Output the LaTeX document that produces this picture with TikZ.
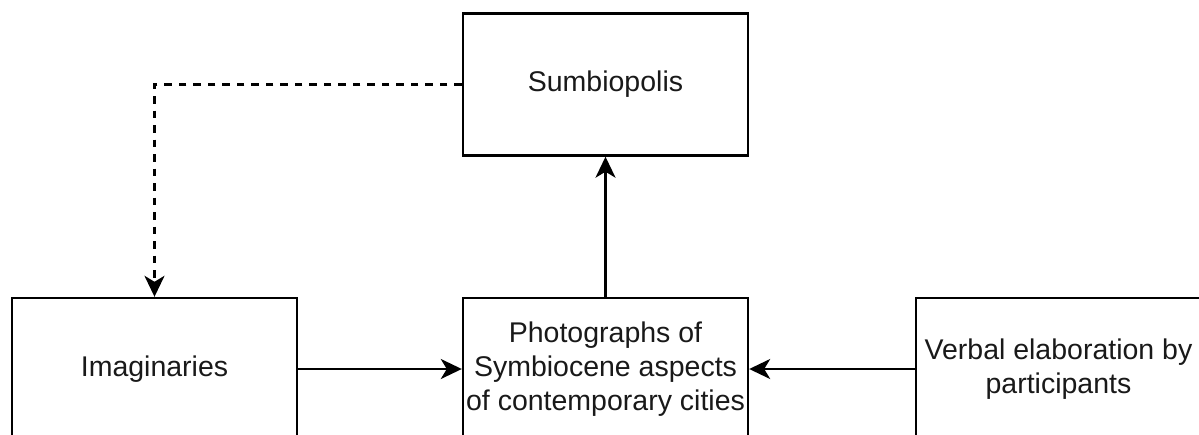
\documentclass[tikz,border=0pt]{standalone}
\usepackage{fontspec}
\setmainfont{Liberation Sans}
\usetikzlibrary{arrows.meta}
\begin{document}
\begin{tikzpicture}[x=1pt,y=-1pt,
  box/.style={draw=black,line width=2.4pt,rectangle,minimum width=285pt,minimum height=142pt,inner sep=0pt,align=center,font=\fontsize{28.5}{34.2}\selectfont,text=black!90},
  conn/.style={line width=2.4pt,-{Stealth[length=21pt,width=20pt,inset=6pt]}},
  dashconn/.style={conn,dash pattern=on 7.5pt off 7pt}]
\useasboundingbox (0,0) rectangle (1199,434);
\clip (0,0) rectangle (1199,434);
\node[box] (sumb) at (605.5,84.5) {Sumbiopolis};
\node[box] (imag) at (154.5,369) {Imaginaries};
\node[box] (photo) at (605.5,369) {Photographs of\\Symbiocene aspects\\of contemporary cities};
\node[box] (verbal) at (1058.5,369) {Verbal elaboration by\\participants};
\draw[dashconn] (sumb.west) -| (imag.north);
\draw[conn] (photo.north) -- (sumb.south);
\draw[conn] (imag.east) -- (photo.west);
\draw[conn] (verbal.west) -- (photo.east);
\end{tikzpicture}
\end{document}
